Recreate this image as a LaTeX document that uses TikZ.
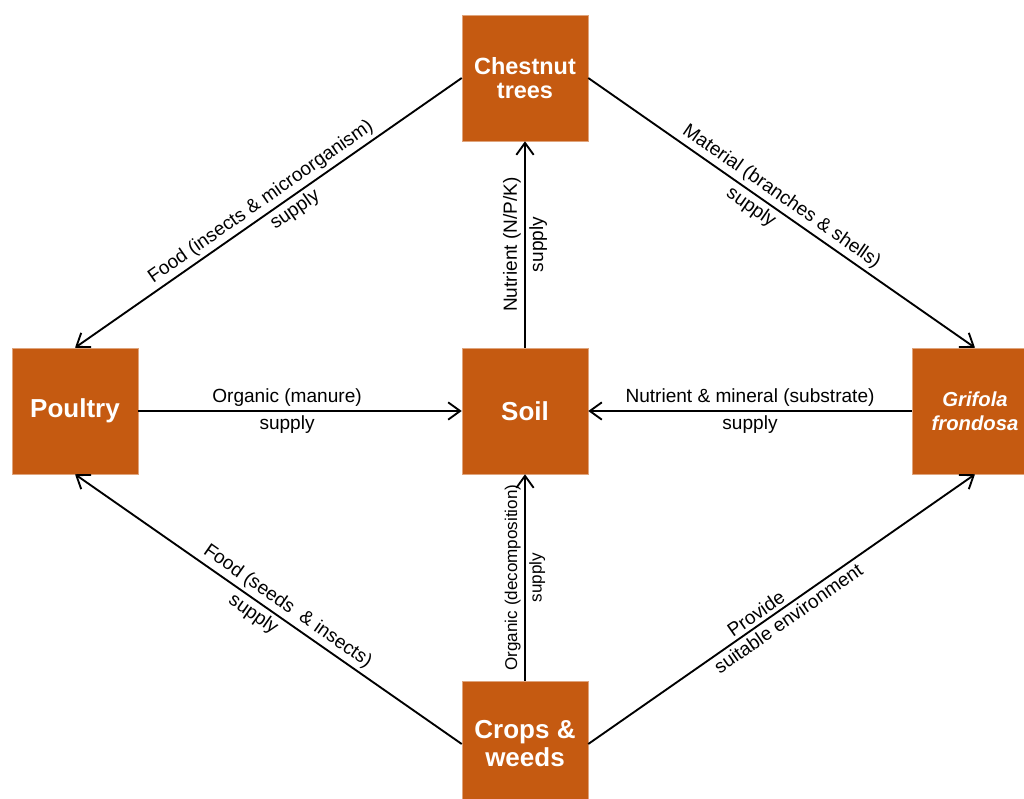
\documentclass[tikz,border=0pt]{standalone}
\usepackage{fontspec}
\setmainfont{Liberation Sans}
\usetikzlibrary{arrows.meta}
\definecolor{boxorange}{HTML}{C55A11}
\begin{document}
\begin{tikzpicture}[x=0.75pt,y=-0.75pt,
  box/.style={fill=boxorange, draw=boxorange!55!white, line width=0.4pt,
    minimum width=94.5pt, minimum height=94.5pt, inner sep=0pt,
    text=white, align=center},
  bigtxt/.style={font=\fontsize{19.5}{21}\selectfont\bfseries},
  midtxt/.style={font=\fontsize{17.6}{18}\selectfont\bfseries},
  smalltxt/.style={font=\fontsize{15.2}{18}\selectfont\bfseries\itshape},
  link/.style={draw=black, line width=1.4pt,
    -{Straight Barb[length=9pt,width=13pt,line width=1.4pt]}},
  lab/.style={font=\fontsize{14.3}{15}\selectfont, inner sep=2.5pt},
  labsm/.style={font=\fontsize{12.8}{14}\selectfont, inner sep=2.5pt}]
\useasboundingbox (0,0) rectangle (1024,799);
\clip (0,0) rectangle (1024,799);
\fill[white] (0,0) rectangle (1024,799);

\node[box, midtxt]   (chest) at (525,78)  {Chestnut\\trees};
\node[box, bigtxt]   (poul)  at (75,411)  {Poultry};
\node[box, bigtxt]   (soil)  at (525,411) {Soil};
\node[box, smalltxt] (grif)  at (975,411) {Grifola\\frondosa};
\node[box, bigtxt]   (crops) at (525,744) {Crops \&\\weeds};

% horizontal
\draw[link] (poul.east) -- node[lab, above, pos=0.46] {Organic (manure)}
                           node[lab, below, pos=0.46] {supply} (soil.west);
\draw[link] (grif.west) -- node[lab, above] {Nutrient \& mineral (substrate)}
                           node[lab, below] {supply} (soil.east);
% vertical
\draw[link] (soil.north) -- node[lab, sloped, above] {Nutrient (N/P/K)}
                            node[lab, sloped, below] {supply} (chest.south);
\draw[link] (crops.north) -- node[labsm, sloped, above] {Organic (decomposition)}
                             node[labsm, sloped, below] {supply} (soil.south);
% diagonals
\draw[link] (chest.west) -- node[lab, sloped, above] {Food (insects \& microorganism)}
                            node[lab, sloped, below, pos=0.45] {supply} (poul.north);
\draw[link] (chest.east) -- node[lab, sloped, above, pos=0.48] {Material (branches \& shells)}
                            node[lab, sloped, below, pos=0.44] {supply} (grif.north);
\draw[link] (crops.west) -- node[lab, sloped, above, pos=0.47] {Food (seeds \ \& insects)}
                            node[lab, sloped, below, pos=0.52] {supply} (poul.south);
\draw[link] (crops.east) -- node[lab, sloped, above, pos=0.45] {Provide}
                            node[lab, sloped, below, pos=0.5] {suitable environment} (grif.south);
\end{tikzpicture}
\end{document}
